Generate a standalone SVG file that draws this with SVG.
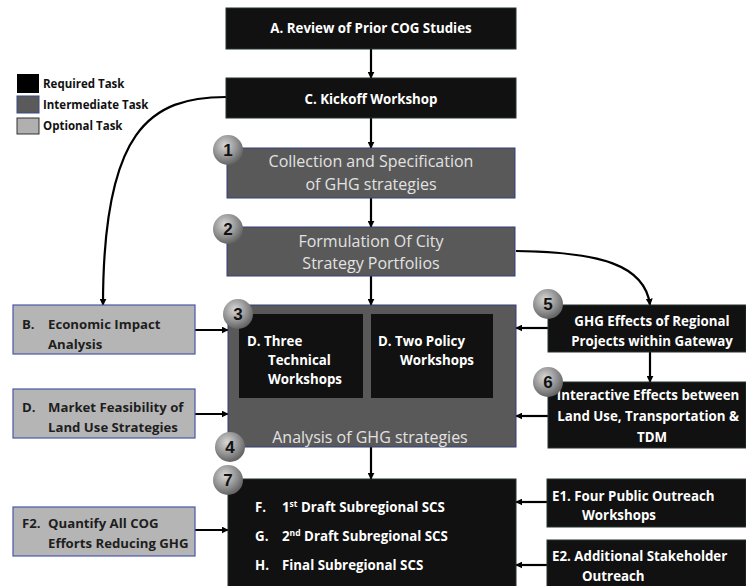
<svg xmlns="http://www.w3.org/2000/svg" width="746" height="586" viewBox="0 0 746 586">
  <defs>
    <radialGradient id="ball" cx="0.4" cy="0.35" r="0.7">
      <stop offset="0" stop-color="#d8d8d8"/>
      <stop offset="0.6" stop-color="#8e8e8e"/>
      <stop offset="1" stop-color="#5a5a5a"/>
    </radialGradient>
    <marker id="arr" viewBox="0 0 10 10" refX="9" refY="5" markerWidth="7" markerHeight="7" markerUnits="userSpaceOnUse" orient="auto">
      <path d="M0,0 L10,5 L0,10 z" fill="#000"/>
    </marker>
  </defs>
  <style>
    .req { fill: #111; stroke: #24332e; stroke-width: 1; }
    .mid { fill: #595959; stroke: #33407a; stroke-width: 1; }
    .opt { fill: #b5b5b5; stroke: #4a58a8; stroke-width: 1.2; }
    .inner { fill: #111; }
    .wt { font-family: "Open Sans", "Liberation Sans", sans-serif; font-weight: bold; fill: #fff; font-size: 13.3px; }
    .lt { font-family: "Open Sans", "Liberation Sans", sans-serif; fill: #e2e2e2; font-size: 16px; }
    .dk { font-family: "Open Sans", "Liberation Sans", sans-serif; font-weight: bold; fill: #1e1e1e; font-size: 13.2px; }
    .lg { font-family: "Open Sans", "Liberation Sans", sans-serif; font-weight: bold; fill: #111; font-size: 11.5px; }
    .num { font-family: "Liberation Sans", sans-serif; font-weight: bold; fill: #111; font-size: 17px; text-anchor: middle; }
    .con { fill: none; stroke: #000; stroke-width: 2.2; marker-end: url(#arr); }
  </style>

  <!-- legend -->
  <g id="legend">
    <rect x="17" y="74" width="22" height="19" fill="#000"/>
    <rect x="17" y="96" width="22" height="17" fill="#5a5a5a" stroke="#3a4a8a" stroke-width="1"/>
    <rect x="17" y="118" width="22" height="16" fill="#b0b0b0" stroke="#333" stroke-width="1"/>
    <text class="lg" x="43" y="88">Required Task</text>
    <text class="lg" x="43" y="109">Intermediate Task</text>
    <text class="lg" x="43" y="130">Optional Task</text>
  </g>

  <!-- connectors -->
  <g id="connectors">
    <line class="con" x1="371" y1="49" x2="371" y2="78"/>
    <line class="con" x1="371" y1="118" x2="371" y2="148"/>
    <line class="con" x1="371" y1="198" x2="371" y2="227"/>
    <line class="con" x1="371" y1="276" x2="371" y2="305"/>
    <line class="con" x1="371" y1="447" x2="371" y2="479"/>
    <path class="con" d="M226,97 C150,97 103,130 103,305"/>
    <path class="con" d="M516,251 C600,252 645,265 650,305"/>
    <line class="con" x1="650" y1="352" x2="650" y2="382"/>
    <line class="con" x1="195" y1="330" x2="228" y2="330"/>
    <line class="con" x1="195" y1="414" x2="228" y2="414"/>
    <line class="con" x1="195" y1="530" x2="228" y2="530"/>
    <line class="con" x1="548" y1="328" x2="516" y2="328"/>
    <line class="con" x1="548" y1="416" x2="516" y2="416"/>
    <line class="con" x1="547" y1="502" x2="516" y2="502"/>
    <line class="con" x1="547" y1="565" x2="516" y2="565"/>
  </g>

  <g id="nodeA">
    <rect class="req" x="226" y="8" width="290" height="41"/>
    <text class="wt" x="371" y="33" text-anchor="middle" font-size="14">A. Review of Prior COG Studies</text>
  </g>

  <g id="nodeC">
    <rect class="req" x="226" y="78" width="290" height="40"/>
    <text class="wt" x="371" y="104" text-anchor="middle">C. Kickoff Workshop</text>
  </g>

  <g id="node1">
    <rect class="mid" x="227" y="148" width="288" height="50"/>
    <text class="lt" x="371" y="167" text-anchor="middle">Collection and Specification</text>
    <text class="lt" x="371" y="190" text-anchor="middle">of GHG strategies</text>
    <circle cx="228" cy="150" r="15" fill="url(#ball)"/>
    <text class="num" x="228" y="156">1</text>
  </g>

  <g id="node2">
    <rect class="mid" x="227" y="227" width="288" height="49"/>
    <text class="lt" x="371" y="247" text-anchor="middle">Formulation Of City</text>
    <text class="lt" x="371" y="269" text-anchor="middle">Strategy Portfolios</text>
    <circle cx="228" cy="229" r="15" fill="url(#ball)"/>
    <text class="num" x="228" y="235">2</text>
  </g>

  <g id="node3">
    <rect class="mid" x="228" y="305" width="288" height="142"/>
    <rect class="inner" x="239" y="314" width="124" height="84"/>
    <rect class="inner" x="371" y="314" width="122" height="84"/>
    <text class="wt" x="247" y="346" font-size="13.8">D. Three</text>
    <text class="wt" x="268" y="365" font-size="13.8">Technical</text>
    <text class="wt" x="268" y="384" font-size="13.8">Workshops</text>
    <text class="wt" x="378" y="346" font-size="13.8">D. Two Policy</text>
    <text class="wt" x="400" y="365" font-size="13.8">Workshops</text>
    <text class="lt" x="370" y="443" text-anchor="middle" font-size="20.5">Analysis of GHG strategies</text>
    <circle cx="238" cy="314" r="15" fill="url(#ball)"/>
    <text class="num" x="238" y="320">3</text>
    <circle cx="230" cy="447" r="15" fill="url(#ball)"/>
    <text class="num" x="230" y="453">4</text>
  </g>

  <g id="nodeB">
    <rect class="opt" x="13" y="305" width="182" height="49"/>
    <text class="dk" x="22" y="329">B.</text>
    <text class="dk" x="48" y="329">Economic Impact</text>
    <text class="dk" x="48" y="349">Analysis</text>
  </g>

  <g id="nodeD">
    <rect class="opt" x="13" y="389" width="182" height="49"/>
    <text class="dk" x="22" y="412">D.</text>
    <text class="dk" x="48" y="412">Market Feasibility of</text>
    <text class="dk" x="48" y="432">Land Use Strategies</text>
  </g>

  <g id="nodeF2">
    <rect class="opt" x="13" y="507" width="182" height="49"/>
    <text class="dk" x="22" y="528">F2.</text>
    <text class="dk" x="48" y="528">Quantify All COG</text>
    <text class="dk" x="48" y="548">Efforts Reducing GHG</text>
  </g>

  <g id="node5">
    <rect class="req" x="548" y="305" width="198" height="47"/>
    <text class="wt" x="652" y="326" text-anchor="middle" font-size="14">GHG Effects of Regional</text>
    <text class="wt" x="652" y="346" text-anchor="middle" font-size="14">Projects within Gateway</text>
    <circle cx="548" cy="304" r="15" fill="url(#ball)"/>
    <text class="num" x="548" y="310">5</text>
  </g>

  <g id="node6">
    <rect class="req" x="548" y="382" width="198" height="66"/>
    <text class="wt" x="648" y="400" text-anchor="middle" font-size="15">Interactive Effects between</text>
    <text class="wt" x="648" y="421" text-anchor="middle" font-size="15">Land Use, Transportation &amp;</text>
    <text class="wt" x="652" y="442" text-anchor="middle" font-size="15">TDM</text>
    <circle cx="548" cy="382" r="15" fill="url(#ball)"/>
    <text class="num" x="548" y="388">6</text>
  </g>

  <g id="node7">
    <rect class="req" x="228" y="479" width="288" height="110"/>
    <text class="wt" x="255" y="512" font-size="13.8">F.</text>
    <text class="wt" x="282" y="512" font-size="13.8">1<tspan font-size="8.5" dy="-5">st</tspan><tspan dy="5"> Draft Subregional SCS</tspan></text>
    <text class="wt" x="255" y="541" font-size="13.8">G.</text>
    <text class="wt" x="282" y="541" font-size="13.8">2<tspan font-size="8.5" dy="-5">nd</tspan><tspan dy="5"> Draft Subregional SCS</tspan></text>
    <text class="wt" x="255" y="570" font-size="13.8">H.</text>
    <text class="wt" x="282" y="570" font-size="13.8">Final Subregional SCS</text>
    <circle cx="228" cy="480" r="15" fill="url(#ball)"/>
    <text class="num" x="228" y="486">7</text>
  </g>

  <g id="nodeE1">
    <rect class="req" x="547" y="479" width="199" height="48"/>
    <text class="wt" x="552" y="501" font-size="14.2">E1. Four Public Outreach</text>
    <text class="wt" x="582" y="520" font-size="14.2">Workshops</text>
  </g>

  <g id="nodeE2">
    <rect class="req" x="547" y="540" width="199" height="50"/>
    <text class="wt" x="552" y="561" font-size="15">E2. Additional Stakeholder</text>
    <text class="wt" x="582" y="581" font-size="15">Outreach</text>
  </g>
</svg>
